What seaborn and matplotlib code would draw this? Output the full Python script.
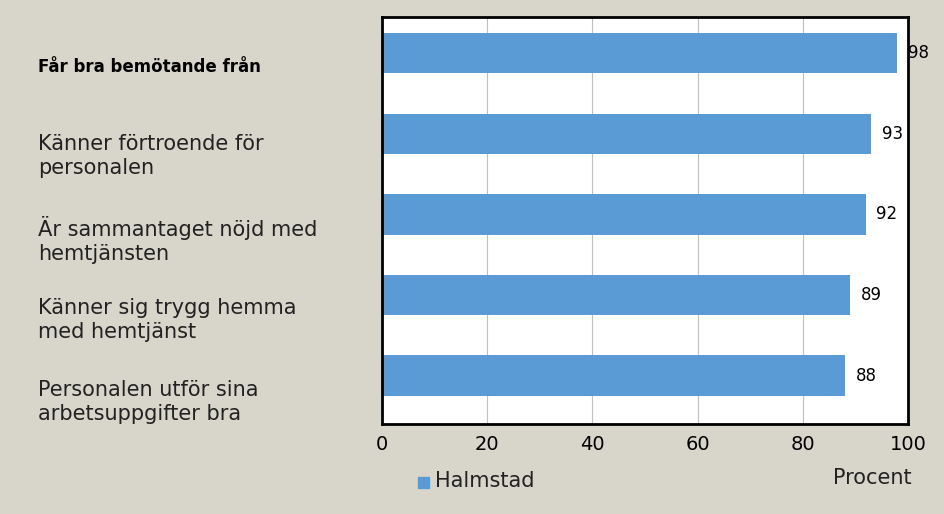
import matplotlib
matplotlib.use("Agg")
import matplotlib.pyplot as plt
import seaborn as sns
import pandas as pd

categories = ["Får bra bemötande från",
              "Känner förtroende för\npersonalen",
              "Är sammantaget nöjd med\nhemtjänsten",
              "Känner sig trygg hemma\nmed hemtjänst",
              "Personalen utför sina\narbetsuppgifter bra"]
values = [98, 93, 92, 89, 88]
series_name = "Halmstad"
xticks = [0, 20, 40, 60, 80, 100]

df = pd.DataFrame({"cat": categories, "val": values})
bg = "#d8d5cb"
blue = "#5b9bd5"

fig = plt.figure(figsize=(9.45, 5.14), dpi=100, facecolor=bg)
ax = fig.add_axes([382/945, 1-424/514, (908-382)/945, (424-17)/514])
ax.set_facecolor("white")
sns.barplot(data=df, x="val", y="cat", color=blue, width=0.5, ax=ax, saturation=1)
ax.set_xlim(0, 100)
ax.set_ylim(4.6, -0.45)
ax.set_xticks(xticks)
ax.set_xticklabels([str(t) for t in xticks], fontsize=14)
ax.tick_params(axis="x", length=0, pad=8)
ax.tick_params(axis="y", length=0)
ax.set_yticklabels([])
ax.set_xlabel(""); ax.set_ylabel("")
ax.grid(axis="x", color="#bfbfbf", lw=0.8)
ax.set_axisbelow(True)
for s in ax.spines.values():
    s.set_color("black"); s.set_linewidth(2)
for i, v in enumerate(values):
    ax.text(v + 2.0, i, str(v), va="center", ha="left", fontsize=12)
ypos = [67, 156, 240, 320, 402]
for i, c in enumerate(categories):
    y = 1 - ypos[i]/514
    if i == 0:
        fig.text(38/945, y, c, fontsize=12, fontweight="bold", va="center", ha="left")
    else:
        fig.text(38/945, y, c, fontsize=15, va="center", ha="left", linespacing=1.3, color="#222222")
fig.patches.append(matplotlib.patches.Rectangle((418/945, 1-488/514), 11/945, 11/514,
                   transform=fig.transFigure, color=blue))
fig.text(435/945, 1-481/514, series_name, fontsize=15, va="center", ha="left", color="#222222")
fig.text(872/945, 1-478/514, "Procent", fontsize=15, va="center", ha="center", color="#222222")
fig.savefig("out.png", dpi=100, facecolor=bg)
